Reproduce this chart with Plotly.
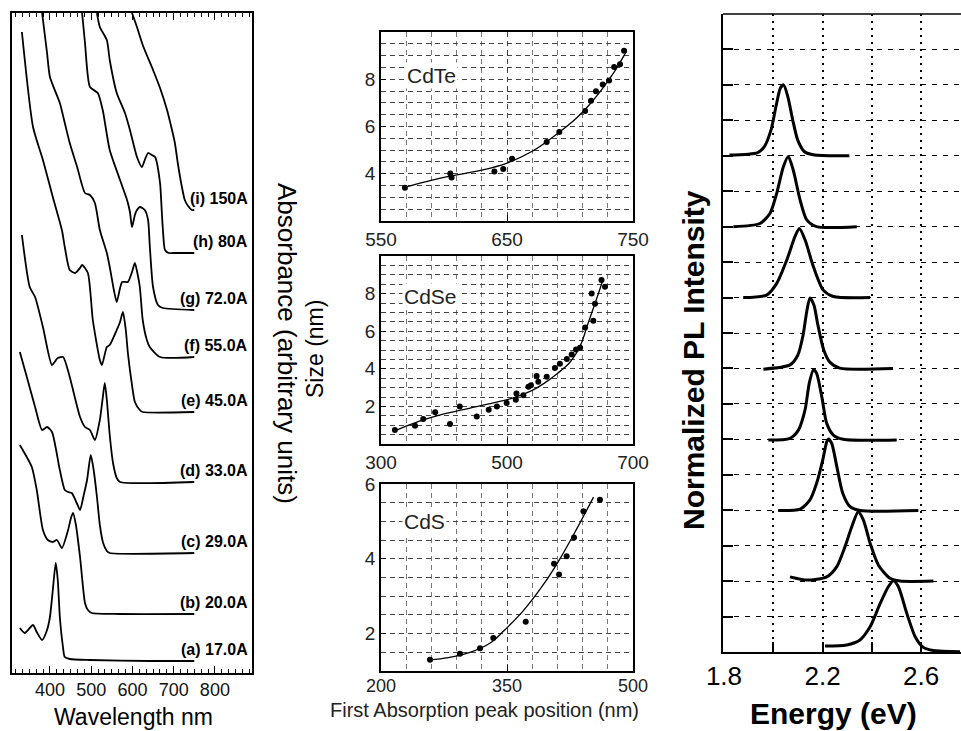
import plotly.graph_objects as go

W, H = 961, 731

# ---------------- Left panel: absorption spectra (wavelength nm, absorbance a.u.) -------------
abs_labels = ["(a) 17.0A", "(b) 20.0A", "(c) 29.0A", "(d) 33.0A", "(e) 45.0A",
              "(f) 55.0A", "(g) 72.0A", "(h) 80A", "(i) 150A"]

wl_a = [327, 339, 359, 368, 381, 393, 400, 407, 414, 419, 424, 431, 436, 448, 497, 642, 750]
ab_a = [0.45, 0.40, 0.48, 0.41, 0.33, 0.43, 0.56, 0.83, 1.10, 0.93, 0.56, 0.28, 0.16, 0.14, 0.13, 0.12, 0.12]

wl_b = [327, 356, 368, 383, 395, 407, 417, 429, 444, 451, 456, 463, 473, 485, 492, 502, 570, 750]
ab_b = [2.28, 2.06, 1.83, 1.43, 1.33, 1.31, 1.33, 1.25, 1.43, 1.55, 1.60, 1.48, 1.16, 0.70, 0.63, 0.60, 0.59, 0.59]

wl_c = [327, 344, 364, 381, 393, 405, 424, 436, 444, 453, 465, 473, 482, 490, 499, 506, 514, 521, 529, 538, 545, 750]
ab_c = [3.21, 2.96, 2.66, 2.43, 2.46, 2.41, 2.03, 1.83, 1.81, 1.80, 1.70, 1.63, 1.78, 1.93, 2.18, 2.03, 1.76, 1.48, 1.30, 1.22, 1.20, 1.20]

wl_d = [332, 351, 364, 383, 405, 419, 432, 448, 473, 485, 497, 509, 521, 528, 533, 538, 545, 553, 562, 570, 750]
ab_d = [4.38, 3.86, 3.76, 3.46, 3.08, 3.15, 3.16, 2.96, 2.56, 2.46, 2.43, 2.33, 2.53, 2.75, 2.90, 2.73, 2.38, 2.10, 1.95, 1.91, 1.91]

wl_e = [332, 359, 383, 407, 429, 436, 448, 461, 473, 478, 492, 504, 521, 526, 538, 545, 562, 570, 577, 584, 589, 599, 606, 618, 625, 750]
ab_e = [6.41, 5.46, 5.13, 4.76, 4.43, 4.26, 4.03, 4.00, 4.05, 4.08, 4.00, 3.53, 3.13, 3.08, 3.26, 3.28, 3.43, 3.51, 3.61, 3.43, 3.20, 2.88, 2.71, 2.63, 2.61, 2.61]

wl_f = [381, 393, 400, 424, 436, 448, 466, 485, 497, 509, 521, 538, 545, 555, 562, 575, 589, 599, 606, 613, 618, 625, 635, 642, 667, 750]
ab_f = [6.60, 6.20, 5.96, 5.70, 5.50, 5.30, 5.06, 4.80, 4.78, 4.70, 4.43, 4.20, 4.06, 3.83, 3.71, 3.91, 3.91, 4.01, 4.10, 3.98, 3.86, 3.53, 3.33, 3.26, 3.16, 3.16]

wl_g = [478, 485, 497, 516, 528, 545, 570, 587, 594, 599, 606, 611, 618, 630, 638, 642, 650, 662, 674, 750]
ab_g = [6.60, 6.30, 5.86, 5.80, 5.63, 5.23, 4.93, 4.73, 4.61, 4.46, 4.58, 4.63, 4.66, 4.63, 4.53, 4.28, 3.86, 3.68, 3.65, 3.63]

wl_h = [514, 521, 538, 545, 562, 582, 594, 611, 623, 630, 638, 647, 655, 667, 671, 674, 679, 688, 698, 750]
ab_h = [6.60, 6.46, 6.33, 6.13, 5.80, 5.60, 5.43, 5.16, 5.06, 5.13, 5.20, 5.18, 5.16, 4.90, 4.63, 4.43, 4.23, 4.20, 4.20, 4.20]

wl_i = [599, 611, 625, 650, 667, 684, 696, 703, 710, 720, 727, 735, 744, 750]
ab_i = [6.60, 6.46, 6.28, 6.03, 5.85, 5.63, 5.43, 5.30, 5.10, 4.86, 4.73, 4.67, 4.63, 4.63]

spectra_wl = [wl_a, wl_b, wl_c, wl_d, wl_e, wl_f, wl_g, wl_h, wl_i]
spectra_ab = [ab_a, ab_b, ab_c, ab_d, ab_e, ab_f, ab_g, ab_h, ab_i]

# ---------------- Middle panels: size vs first absorption peak -------------
cdte_peak = [569, 605, 606, 640, 647, 654, 681.5, 691.5, 712, 716.7, 720.6, 726, 731, 735, 739.7, 742.9]
cdte_size = [3.41, 4.01, 3.84, 4.10, 4.20, 4.63, 5.34, 5.77, 6.66, 7.09, 7.49, 7.78, 7.95, 8.52, 8.64, 9.21]
cdte_fit_peak = [568, 600, 630, 650, 670, 690, 705, 715, 725, 735, 745]
cdte_fit_size = [3.42, 3.85, 4.15, 4.45, 4.95, 5.70, 6.35, 6.90, 7.55, 8.30, 9.20]

cdse_peak = [322, 354, 367, 386, 409.5, 425, 452, 471, 484, 499.5, 514, 515, 526, 534, 538, 547, 549.7,
             563, 576, 584, 595, 602.7, 609.5, 616, 624, 637, 639.7, 634.4, 650, 655.6]
cdse_size = [0.75, 0.97, 1.33, 1.69, 1.06, 2.0, 1.46, 1.82, 2.0, 2.18, 2.36, 2.69, 2.59, 3.04, 3.12, 3.62, 3.31,
             3.58, 4.04, 4.27, 4.52, 4.76, 5.03, 5.12, 6.2, 6.56, 7.46, 8.0, 8.72, 8.36]
cdse_fit_peak = [322, 360, 400, 440, 480, 510, 540, 560, 580, 600, 616, 629, 642, 652]
cdse_fit_size = [0.70, 1.20, 1.60, 1.90, 2.20, 2.45, 2.85, 3.25, 3.75, 4.35, 5.20, 6.45, 7.70, 8.70]

cds_peak = [258.3, 294, 317.9, 333.7, 372.3, 406, 412, 421, 429.8, 441, 460.7]
cds_size = [1.30, 1.46, 1.61, 1.88, 2.32, 3.87, 3.58, 4.07, 4.57, 5.27, 5.58]
cds_fit_peak = [258, 280, 306, 330, 346, 369, 393, 413, 433, 453]
cds_fit_size = [1.30, 1.36, 1.50, 1.75, 2.07, 2.60, 3.30, 4.00, 4.80, 5.65]

cdte_yticks = [4, 6, 8]
cdse_yticks = [2, 4, 6, 8]
cds_yticks = [2, 4, 6]

# ---------------- Right panel: normalized PL spectra (eV), stacked -------------
pl_e_1 = [1.822, 1.937, 1.964, 1.991, 2.011, 2.029, 2.042, 2.059, 2.079, 2.099, 2.126, 2.167, 2.309]
pl_i_1 = [14.02, 14.09, 14.26, 14.73, 15.39, 15.91, 16.0, 15.67, 15.01, 14.45, 14.12, 14.02, 14.0]
pl_e_2 = [1.838, 1.946, 1.987, 2.014, 2.041, 2.061, 2.081, 2.109, 2.136, 2.176, 2.339]
pl_i_2 = [12.0, 12.09, 12.38, 12.94, 13.69, 13.98, 13.6, 12.75, 12.19, 12.0, 12.0]
pl_e_3 = [1.878, 1.973, 2.014, 2.055, 2.088, 2.106, 2.129, 2.163, 2.203, 2.244, 2.393]
pl_i_3 = [10.0, 10.07, 10.4, 11.06, 11.72, 11.95, 11.63, 10.87, 10.21, 10.03, 10.0]
pl_e_4 = [1.96, 2.068, 2.10, 2.121, 2.137, 2.149, 2.165, 2.181, 2.205, 2.229, 2.27, 2.486]
pl_i_4 = [7.98, 8.10, 8.38, 8.94, 9.65, 9.99, 9.79, 9.23, 8.52, 8.18, 8.01, 8.0]
pl_e_5 = [1.98, 2.068, 2.102, 2.129, 2.146, 2.163, 2.176, 2.197, 2.217, 2.244, 2.284, 2.501]
pl_i_5 = [5.98, 6.03, 6.26, 6.83, 7.58, 7.96, 7.86, 7.2, 6.45, 6.12, 6.0, 5.98]
pl_e_6 = [2.02, 2.109, 2.149, 2.176, 2.201, 2.217, 2.224, 2.237, 2.258, 2.282, 2.312, 2.352, 2.589]
pl_i_6 = [3.99, 4.03, 4.29, 4.76, 5.42, 5.93, 6.01, 5.89, 5.23, 4.48, 4.1, 3.99, 3.99]
pl_e_7 = [2.068, 2.136, 2.217, 2.258, 2.291, 2.319, 2.345, 2.366, 2.393, 2.427, 2.474, 2.515, 2.65]
pl_i_7 = [2.12, 2.03, 2.12, 2.41, 2.97, 3.54, 3.96, 3.72, 3.07, 2.45, 2.08, 2.0, 2.0]
pl_e_8 = [2.21, 2.298, 2.352, 2.393, 2.434, 2.467, 2.488, 2.508, 2.542, 2.576, 2.609, 2.65, 2.758]
pl_i_8 = [0.17, 0.2, 0.34, 0.71, 1.37, 1.84, 2.01, 1.84, 1.09, 0.43, 0.13, 0.04, 0.01]

pl_energy = [pl_e_1, pl_e_2, pl_e_3, pl_e_4, pl_e_5, pl_e_6, pl_e_7, pl_e_8]
pl_intensity = [pl_i_1, pl_i_2, pl_i_3, pl_i_4, pl_i_5, pl_i_6, pl_i_7, pl_i_8]


# ---------------- figure -------------
def dx(p):
    return p / W


def dy(p):
    return 1 - p / H


FONT = "Liberation Sans, Arial, Helvetica, sans-serif"
fig = go.Figure()

for wl, ab in zip(spectra_wl, spectra_ab):
    fig.add_trace(go.Scatter(x=wl, y=ab, mode="lines", xaxis="x", yaxis="y",
                             line=dict(color="black", width=1.8, shape="spline", smoothing=0.6),
                             hoverinfo="skip", showlegend=False))

mid = [(cdte_peak, cdte_size, cdte_fit_peak, cdte_fit_size, "x2", "y2"),
       (cdse_peak, cdse_size, cdse_fit_peak, cdse_fit_size, "x3", "y3"),
       (cds_peak, cds_size, cds_fit_peak, cds_fit_size, "x4", "y4")]
for pk, sz, fpk, fsz, xa, ya in mid:
    fig.add_trace(go.Scatter(x=fpk, y=fsz, mode="lines", xaxis=xa, yaxis=ya,
                             line=dict(color="black", width=1.3, shape="spline"),
                             showlegend=False, hoverinfo="skip"))
    fig.add_trace(go.Scatter(x=pk, y=sz, mode="markers", xaxis=xa, yaxis=ya,
                             marker=dict(color="black", size=6), showlegend=False))

for e, i in zip(pl_energy, pl_intensity):
    fig.add_trace(go.Scatter(x=e, y=i, mode="lines", xaxis="x5", yaxis="y5",
                             line=dict(color="black", width=3, shape="spline", smoothing=0.7),
                             hoverinfo="skip", showlegend=False))

box = dict(showline=True, linecolor="black", linewidth=1.5, zeroline=False, automargin=False)

# left panel axes
fig.update_layout(
    xaxis=dict(domain=[dx(12), dx(252)], range=[308, 890], anchor="y", mirror="ticks",
               ticks="inside", ticklen=7, tickwidth=1, tickcolor="black",
               tick0=400, dtick=100, showgrid=False,
               minor=dict(dtick=100 / 6, tick0=400, ticks="inside", ticklen=4, tickcolor="black"),
               tickfont=dict(family=FONT, size=18, color="#111"), **box),
    yaxis=dict(domain=[dy(673), dy(13)], range=[0, 6.6], anchor="x", mirror=True,
               showticklabels=False, ticks="", showgrid=False, **box),
)

mid_dom = [(32, 221), (256, 444), (484, 671)]
mid_x = [dict(range=[550, 750], dtick=100, minor=20),
         dict(range=[300, 700], dtick=200, minor=40),
         dict(range=[200, 500], dtick=150, minor=30)]
mid_y = [dict(range=[2, 10], ticks=cdte_yticks),
         dict(range=[0, 10], ticks=cdse_yticks),
         dict(range=[1, 6], ticks=cds_yticks)]
for k in range(3):
    n = k + 2
    top, bot = mid_dom[k]
    gx = dict(showgrid=True, gridcolor="#444", griddash="5px,4px", gridwidth=1)
    fig.layout[f"xaxis{n}"] = dict(
        domain=[dx(381), dx(633)], range=mid_x[k]["range"], anchor=f"y{n}", mirror=True,
        dtick=mid_x[k]["dtick"], tick0=mid_x[k]["range"][0], ticks="inside", ticklen=6,
        tickcolor="black", tickfont=dict(family=FONT, size=19 if k < 2 else 18, color="#222"),
        ticklabelstandoff=0 if k < 2 else -2,
        minor=dict(dtick=mid_x[k]["minor"], tick0=mid_x[k]["range"][0], showgrid=True,
                   gridcolor="#777", griddash="5px,4px", gridwidth=1),
        layer="below traces", **gx, **box)
    fig.layout[f"yaxis{n}"] = dict(
        domain=[dy(bot), dy(top)], range=mid_y[k]["range"], anchor=f"x{n}", mirror=True,
        tickmode="array", tickvals=mid_y[k]["ticks"], ticks="inside", ticklen=5,
        tickcolor="black", tickfont=dict(family=FONT, size=19, color="#222"),
        minor=dict(dtick=0.5, tick0=0, showgrid=True, gridcolor="#444", griddash="5px,4px",
                   gridwidth=1),
        **gx, **box)

# right panel
fig.layout["xaxis5"] = dict(
    domain=[dx(723), 1.0], range=[1.796, 2.762], anchor="y5", dtick=0.4, tick0=1.8,
    ticks="inside", ticklen=10, tickcolor="black", tickwidth=1.5,
    tickfont=dict(family=FONT, size=26, color="black"),
    showgrid=True, gridcolor="black", griddash="2px,5px", gridwidth=1.5,
    minor=dict(dtick=0.2, tick0=1.8, ticks="inside", ticklen=10, tickcolor="black",
               showgrid=True, gridcolor="black", griddash="2px,5px", gridwidth=1.5),
    showline=True, linecolor="black", linewidth=2, zeroline=False, mirror=False,
    automargin=False)
fig.layout["yaxis5"] = dict(
    domain=[dy(652), dy(14)], range=[0, 18], anchor="x5", dtick=1, tick0=0,
    showticklabels=False, ticks="inside", ticklen=10, tickcolor="black", tickwidth=1.5,
    showgrid=True, gridcolor="black", griddash="5px,6px", gridwidth=1.3,
    showline=True, linecolor="black", linewidth=2, zeroline=False, mirror=False,
    automargin=False)

shapes = [dict(type="line", xref="x5 domain", yref="y5 domain", x0=0, x1=1, y0=1, y1=1,
               line=dict(color="black", width=1.5))]

annotations = []
# curve labels (placed just above each spectrum's flat tail)
for lab, ab in zip(abs_labels, spectra_ab):
    annotations.append(dict(text=f"<b>{lab}</b>", x=886, y=ab[-1] + 0.12, xref="x", yref="y",
                            xanchor="right", yanchor="middle", showarrow=False,
                            font=dict(family=FONT, size=16, color="black")))
annotations += [
    dict(text="Wavelength nm", x=dx(133), y=0.0, xref="paper", yref="paper",
         xanchor="center", yanchor="bottom", showarrow=False, borderpad=0,
         font=dict(family=FONT, size=23, color="black")),
    dict(text="Absorbance (arbitrary units)", x=dx(287), y=dy(343), xref="paper", yref="paper",
         xanchor="center", yanchor="middle", textangle=90, showarrow=False,
         font=dict(family=FONT, size=26, color="black")),
    dict(text="Size (nm)", x=dx(315), y=dy(349), xref="paper", yref="paper",
         xanchor="center", yanchor="middle", textangle=-90, showarrow=False,
         font=dict(family=FONT, size=23, color="black")),
    dict(text="First Absorption peak position (nm)", x=dx(484), y=dy(710), xref="paper",
         yref="paper", xanchor="center", yanchor="middle", showarrow=False, borderpad=0,
         font=dict(family=FONT, size=20, color="#222")),
    dict(text="<b>Normalized PL Intensity</b>", x=dx(693), y=dy(360), xref="paper",
         yref="paper", xanchor="center", yanchor="middle", textangle=-90, showarrow=False,
         font=dict(family=FONT, size=30, color="black")),
    dict(text="<b>Energy (eV)</b>", x=dx(833), y=0.0, xref="paper", yref="paper",
         xanchor="center", yanchor="bottom", showarrow=False, borderpad=0,
         font=dict(family=FONT, size=30, color="black")),
]
for name, n, fx, fy in [("CdTe", 2, 0.20, 0.77), ("CdSe", 3, 0.195, 0.787), ("CdS", 4, 0.171, 0.80)]:
    annotations.append(dict(text=name, x=fx, y=fy, xref=f"x{n} domain", yref=f"y{n} domain",
                            xanchor="center", yanchor="middle", showarrow=False, bgcolor="white",
                            font=dict(family=FONT, size=21, color="#222")))

fig.update_layout(template="none", width=W, height=H, margin=dict(l=0, r=0, t=0, b=0, pad=0),
                  paper_bgcolor="white", plot_bgcolor="white", showlegend=False,
                  annotations=annotations, shapes=shapes)

fig.write_html("out.html", config={"displayModeBar": False},
               post_script="document.body.style.margin='0px';document.body.style.overflow='hidden';")
